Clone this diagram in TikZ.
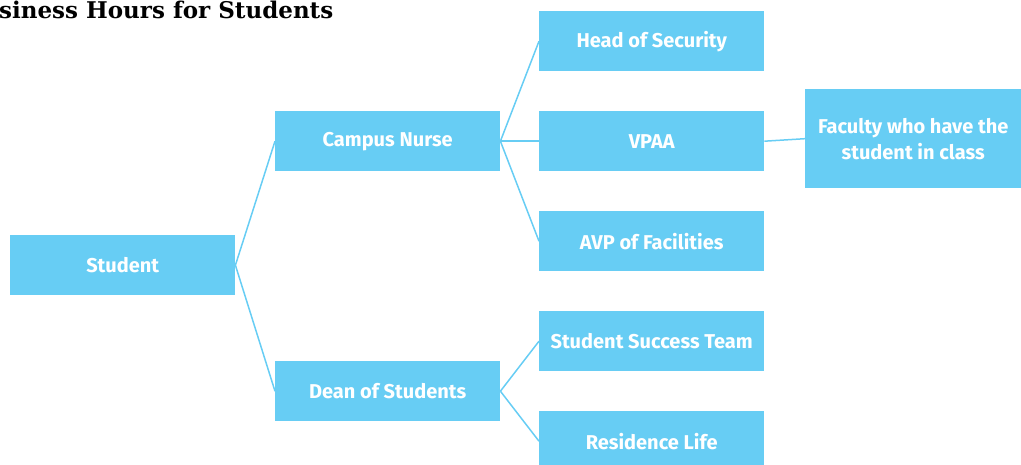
\documentclass[tikz,border=0pt]{standalone}
\usepackage{fontspec}
\newfontfamily\boxfont{Fira Sans}
\newfontfamily\titlefont{DejaVu Serif}
\definecolor{boxblue}{HTML}{67CDF4}
\begin{document}
\begin{tikzpicture}[x=1pt,y=-1pt,
  box/.style={fill=boxblue, draw=none, minimum width=225pt, minimum height=60pt, inner sep=0pt, text=white, font=\boxfont\bfseries\fontsize{20}{26}\selectfont, align=center, anchor=north west},
  link/.style={draw=boxblue, line width=1.5pt}]
\useasboundingbox (0,0) rectangle (1021,465);
\node[anchor=base west, inner sep=0pt, font=\titlefont\bfseries\fontsize{23}{26}\selectfont] (title) at (-1,19) {siness Hours for Students};
\node[box] (student) at (10,235) {Student};
\node[box] (nurse) at (275,111) {Campus Nurse};
\node[box] (dean) at (275,361) {Dean of Students};
\node[box] (head) at (539,11) {Head of Security};
\node[box] (vpaa) at (539,111) {VPAA};
\node[box] (avp) at (539,211) {AVP of Facilities};
\node[box] (sst) at (539,311) {Student Success Team};
\node[box] (res) at (539,411) {Residence Life};
\node[box, minimum width=216pt, minimum height=99pt] (fac) at (805,89) {Faculty who have the\\student in class};
\draw[link] (student.east) -- (nurse.west);
\draw[link] (student.east) -- (dean.west);
\draw[link] (nurse.east) -- (head.west);
\draw[link] (nurse.east) -- (vpaa.west);
\draw[link] (nurse.east) -- (avp.west);
\draw[link] (dean.east) -- (sst.west);
\draw[link] (dean.east) -- (res.west);
\draw[link] (vpaa.east) -- (fac.west);
\end{tikzpicture}
\end{document}
